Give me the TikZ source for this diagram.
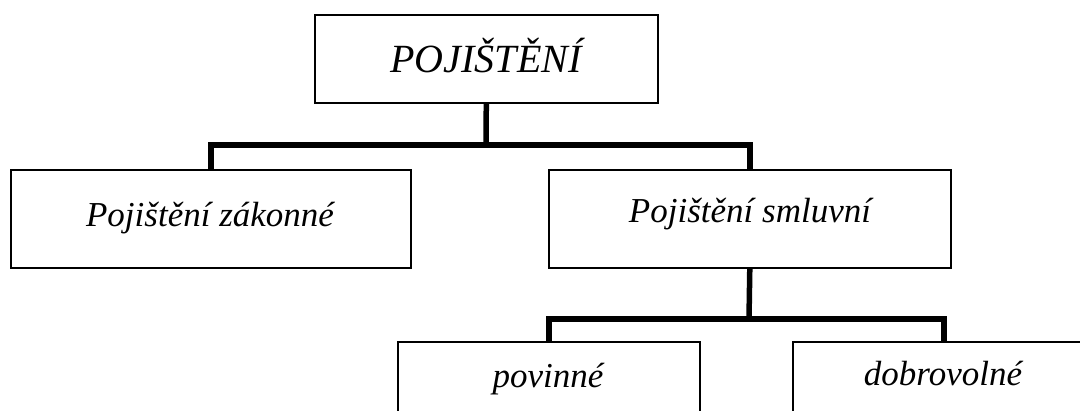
\documentclass[tikz,border=0pt]{standalone}
\usepackage{fontspec}
\setmainfont{Liberation Serif}
\begin{document}
\begin{tikzpicture}[x=1pt,y=-1pt,
  box/.style={draw=black,line width=1.6pt,fill=white,inner sep=0pt,anchor=north west},
  lbl/.style={anchor=base,inner sep=0pt,font=\itshape\fontsize{35}{40}\selectfont},
  toplbl/.style={lbl,font=\itshape\fontsize{40}{46}\selectfont},
  conn/.style={line width=5.5pt,line join=miter,line cap=butt}]
\useasboundingbox (0,0) rectangle (1080,411);
\clip (0,0) rectangle (1080,411);
\fill[white] (0,0) rectangle (1080,411);

% boxes
\node[box,minimum width=343pt,minimum height=88pt] (top) at (314,14) {};
\node[box,minimum width=400pt,minimum height=98pt] (zak) at (10,169) {};
\node[box,minimum width=402pt,minimum height=98pt] (smlu) at (548,169) {};
\node[box,minimum width=302pt,minimum height=98pt] (pov) at (397,341) {};
\node[box,minimum width=302pt,minimum height=98pt] (dob) at (792,341) {};

% labels
\node[toplbl] (ttop) at (486,73) {POJIŠTĚNÍ};
\node[lbl] (tzak) at (210,227) {Pojištění zákonné};
\node[lbl] (tsmlu) at (750,223) {Pojištění smluvní};
\node[lbl] (tpov) at (548,388) {povinné};
\node[lbl] (tdob) at (943,386) {dobrovolné};

% tree connectors
\coordinate (bus1) at (486,145);
\coordinate (bus2) at (749,319);
\draw[conn] (top.south) -- (bus1);
\draw[conn] (zak.north) |- (bus1) -| (smlu.north);
\draw[conn] (smlu.south) -- (bus2);
\draw[conn] (pov.north) |- (bus2) -| (dob.north);
\end{tikzpicture}
\end{document}
